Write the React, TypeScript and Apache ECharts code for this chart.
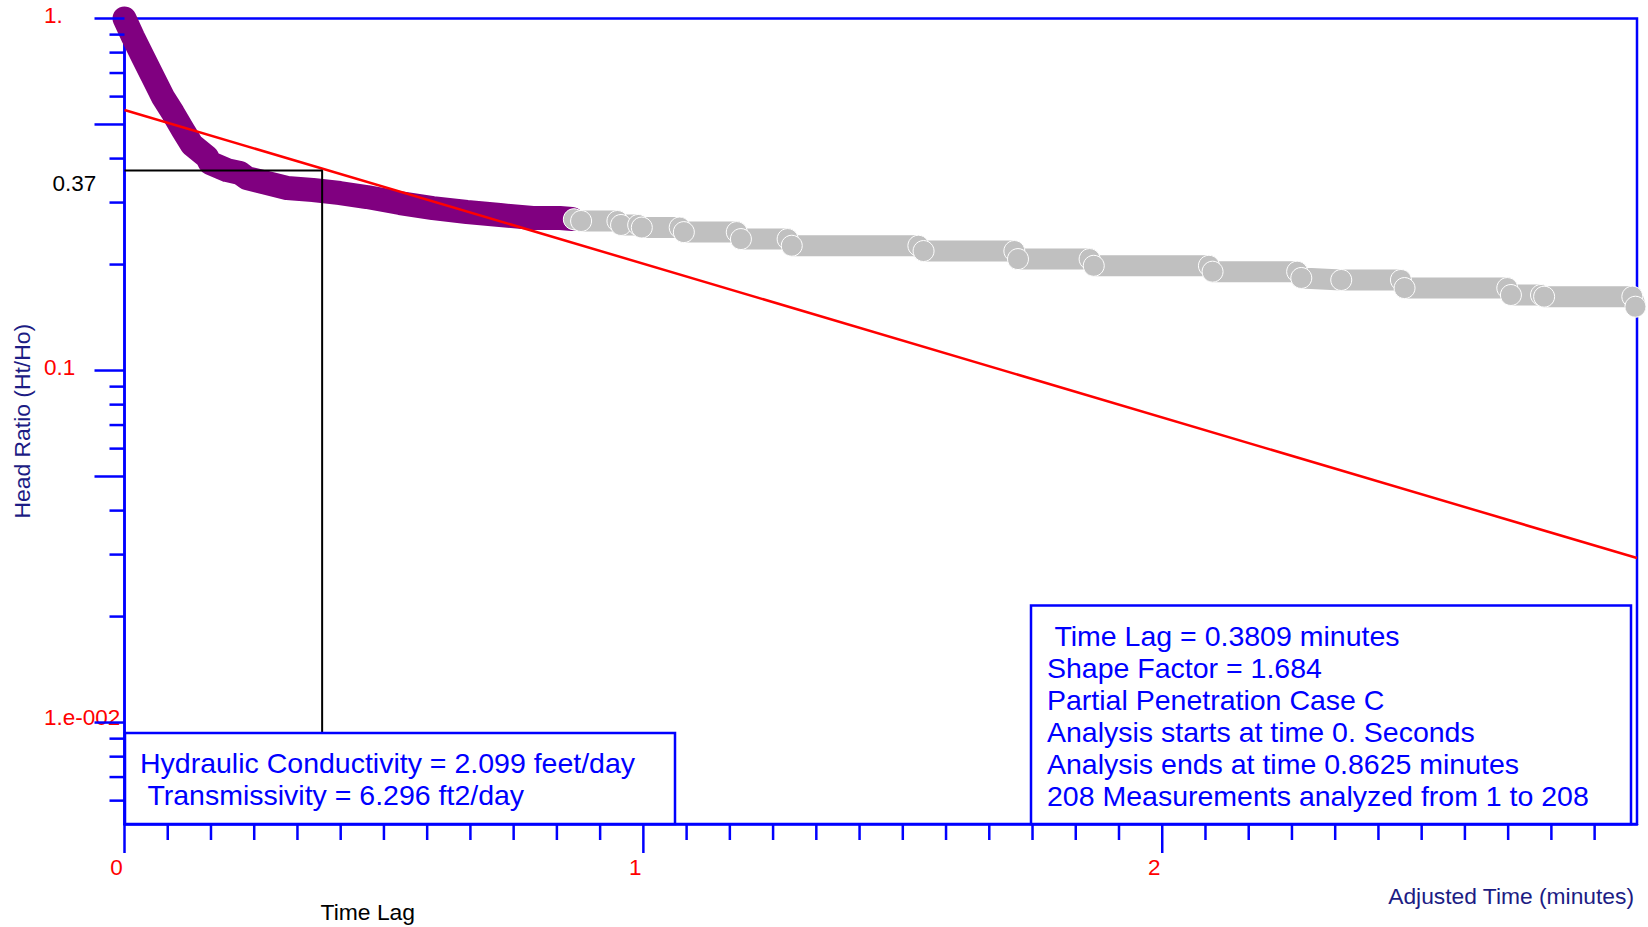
import React, { useEffect, useRef } from 'react';
import * as echarts from 'echarts';

// ---- data ----
const analyzedTimes = [0, 0.0164, 0.0356, 0.0549, 0.0742, 0.0934, 0.1127, 0.13, 0.159, 0.1647, 0.1975, 0.2225, 0.236, 0.2746, 0.3131, 0.3632, 0.4152, 0.4673, 0.5308, 0.5944, 0.6599, 0.7235, 0.7871, 0.8391, 0.8625];
const analyzedRatios = [1.0, 0.886, 0.777, 0.682, 0.598, 0.539, 0.482, 0.438, 0.404, 0.389, 0.371, 0.364, 0.352, 0.341, 0.33, 0.3257, 0.3193, 0.3111, 0.2991, 0.2894, 0.282, 0.2765, 0.2711, 0.2711, 0.2695];

const otherTimes = [0.866, 0.88, 0.95, 0.957, 0.99, 0.997, 1.07, 1.078, 1.18, 1.188, 1.278, 1.286, 1.53, 1.54, 1.715, 1.722, 1.86, 1.868, 2.09, 2.097, 2.26, 2.268, 2.345, 2.46, 2.467, 2.665, 2.672, 2.73, 2.736, 2.906, 2.912];
const otherRatios = [0.269, 0.2659, 0.2659, 0.2591, 0.2591, 0.2548, 0.2548, 0.2473, 0.2473, 0.2363, 0.2363, 0.2262, 0.2262, 0.2185, 0.2185, 0.2073, 0.2073, 0.1984, 0.1984, 0.1909, 0.1909, 0.1832, 0.1808, 0.1808, 0.1715, 0.1715, 0.1639, 0.1639, 0.1621, 0.1621, 0.1518];

const fitTimes = [0, 2.915];
const fitRatios = [0.5495, 0.02933];

const timeLag = 0.3809;
const timeLagRatio = 0.37;

const xMin = 0;
const xMax = 2.915;
const yMin = 0.00515;
const yMax = 1;

const yMajorTicks = [1, 0.5, 0.1, 0.05, 0.01];
const yMinorTicks = [0.9, 0.8, 0.7, 0.6, 0.4, 0.3, 0.2, 0.09, 0.08, 0.07, 0.06, 0.04, 0.03, 0.02, 0.009, 0.008, 0.007, 0.006];
const xMajorTicks = [0, 1, 2];
const xMinorTicks: number[] = [];
for (let i = 1; i < 35; i++) if (i % 12 !== 0) xMinorTicks.push(i / 12);

const yTickLabels: [number, string][] = [[1, '1.'], [0.1, '0.1'], [0.01, '1.e-002']];

const leftBoxLines = ['Hydraulic Conductivity = 2.099 feet/day', ' Transmissivity = 6.296 ft2/day'];
const rightBoxLines = [' Time Lag = 0.3809 minutes', 'Shape Factor = 1.684', 'Partial Penetration Case C', 'Analysis starts at time 0. Seconds', 'Analysis ends at time 0.8625 minutes', '208 Measurements analyzed from 1 to 208'];

const FONT = "'Liberation Sans', Arial, Helvetica, sans-serif";
const BLUE = '#0000ff';
const NAVY = '#1c1c84';

function tickSeries(values: number[], isX: boolean, len: number) {
  return {
    type: 'custom',
    coordinateSystem: 'cartesian2d',
    silent: true,
    clip: false,
    z: 6,
    data: values.map((v) => (isX ? [v, yMin] : [xMin, v])),
    encode: { x: 0, y: 1 },
    renderItem: (params: any, api: any) => {
      const p = api.coord([api.value(0), api.value(1)]);
      const shape = isX
        ? { x1: p[0], y1: p[1], x2: p[0], y2: p[1] + len }
        : { x1: p[0] - len, y1: p[1], x2: p[0], y2: p[1] };
      return { type: 'line', shape, style: { stroke: BLUE, lineWidth: 2.5 } };
    },
  };
}

export default function App() {
  const ref = useRef<HTMLDivElement>(null);
  useEffect(() => {
    if (!ref.current) return;
    const chart = echarts.init(ref.current, null, { renderer: 'svg' });
    const lineH = 31.9;
    const textStyle = (fill: string, size: number, align = 'left') => ({
      fill,
      fontSize: size,
      fontFamily: FONT,
      align,
      verticalAlign: 'middle',
    });
    const graphic: any[] = [
      { type: 'rect', z: 100, shape: { x: 125, y: 733, width: 550, height: 91 }, style: { fill: '#ffffff', stroke: BLUE, lineWidth: 2.5 } },
      { type: 'rect', z: 100, shape: { x: 1031, y: 605.5, width: 600, height: 218.5 }, style: { fill: '#ffffff', stroke: BLUE, lineWidth: 2.5 } },
      ...leftBoxLines.map((t, i) => ({ type: 'text', z: 101, x: 140, y: 763 + i * lineH, style: { text: t, ...textStyle(BLUE, 28.5) } })),
      ...rightBoxLines.map((t, i) => ({ type: 'text', z: 101, x: 1047, y: 636 + i * lineH, style: { text: t, ...textStyle(BLUE, 28.5) } })),
      { type: 'text', z: 101, x: 52.5, y: 183, style: { text: String(timeLagRatio), ...textStyle('#000000', 22.5) } },
      { type: 'text', z: 101, x: 320.5, y: 912, style: { text: 'Time Lag', ...textStyle('#000000', 22.9) } },
      { type: 'text', z: 101, x: 1634, y: 895.5, style: { text: 'Adjusted Time (minutes)', ...textStyle(NAVY, 22.8, 'right') } },
    ];

    chart.setOption({
      animation: false,
      textStyle: { fontFamily: FONT },
      grid: {
        left: 124.5,
        right: 11,
        top: 18.5,
        bottom: 103,
        show: true,
        borderColor: BLUE,
        borderWidth: 2.5,
        backgroundColor: 'transparent',
        containLabel: false,
        outerBoundsMode: 'none',
      },
      xAxis: {
        type: 'value',
        min: xMin,
        max: xMax,
        interval: 1,
        axisLine: { show: true, lineStyle: { color: BLUE, width: 2.5 } },
        axisTick: { show: false },
        splitLine: { show: false },
        axisLabel: {
          color: '#ff0000',
          fontSize: 22.5,
          fontFamily: FONT,
          margin: 32,
          padding: [0, 16, 0, 0],
          showMaxLabel: false,
          formatter: (v: number) => (xMajorTicks.includes(v) ? String(v) : ''),
        },
      },
      yAxis: {
        type: 'log',
        min: yMin,
        max: yMax,
        axisLine: { show: true, lineStyle: { color: BLUE, width: 2.5 } },
        axisTick: { show: false },
        splitLine: { show: false },
        minorSplitLine: { show: false },
        name: 'Head Ratio (Ht/Ho)',
        nameLocation: 'middle',
        nameRotate: 90,
        nameGap: 90.5,
        nameTextStyle: { color: NAVY, fontSize: 22.9, fontFamily: FONT },
        axisLabel: {
          color: '#ff0000',
          fontSize: 22.5,
          fontFamily: FONT,
          align: 'left',
          margin: 80.5,
          padding: [0, 0, 6, 0],
          showMinLabel: false,
          formatter: (v: number) => {
            for (const [val, txt] of yTickLabels) {
              if (Math.abs(v - val) < val * 1e-4) return val === 0.01 ? '{lo|' + txt + '}' : txt;
            }
            return '';
          },
          rich: {
            lo: { color: '#ff0000', fontSize: 22.5, fontFamily: FONT, padding: [0, 0, 4, 0] },
          },
        },
      },
      graphic,
      series: [
        {
          type: 'line',
          silent: true,
          clip: false,
          z: 2,
          data: analyzedTimes.map((t, i) => [t, analyzedRatios[i]]),
          symbol: 'circle',
          symbolSize: 22,
          showSymbol: true,
          itemStyle: { color: '#800080' },
          lineStyle: { color: '#800080', width: 24, cap: 'round', join: 'round' },
        },
        {
          type: 'line',
          silent: true,
          clip: false,
          z: 3,
          data: otherTimes.map((t, i) => [t, otherRatios[i]]),
          symbol: 'circle',
          symbolSize: 21,
          showSymbol: true,
          itemStyle: { color: '#c0c0c0', borderColor: '#ffffff', borderWidth: 1 },
          lineStyle: { color: '#c0c0c0', width: 21, cap: 'round', join: 'round' },
        },
        {
          type: 'line',
          silent: true,
          clip: false,
          z: 4,
          data: fitTimes.map((t, i) => [t, fitRatios[i]]),
          showSymbol: false,
          lineStyle: { color: '#ff0000', width: 2.5 },
        },
        {
          type: 'line',
          silent: true,
          clip: false,
          z: 4,
          data: [[xMin, timeLagRatio], [timeLag, timeLagRatio], [timeLag, yMin]],
          showSymbol: false,
          lineStyle: { color: '#000000', width: 2 },
        },
        tickSeries(yMajorTicks, false, 30),
        tickSeries(yMinorTicks, false, 15),
        tickSeries(xMajorTicks, true, 29),
        tickSeries(xMinorTicks, true, 16),
      ],
    } as any);
    return () => chart.dispose();
  }, []);
  return <div ref={ref} style={{ position: 'fixed', left: 0, top: 0, width: 1648, height: 927, background: '#ffffff' }} />;
}
